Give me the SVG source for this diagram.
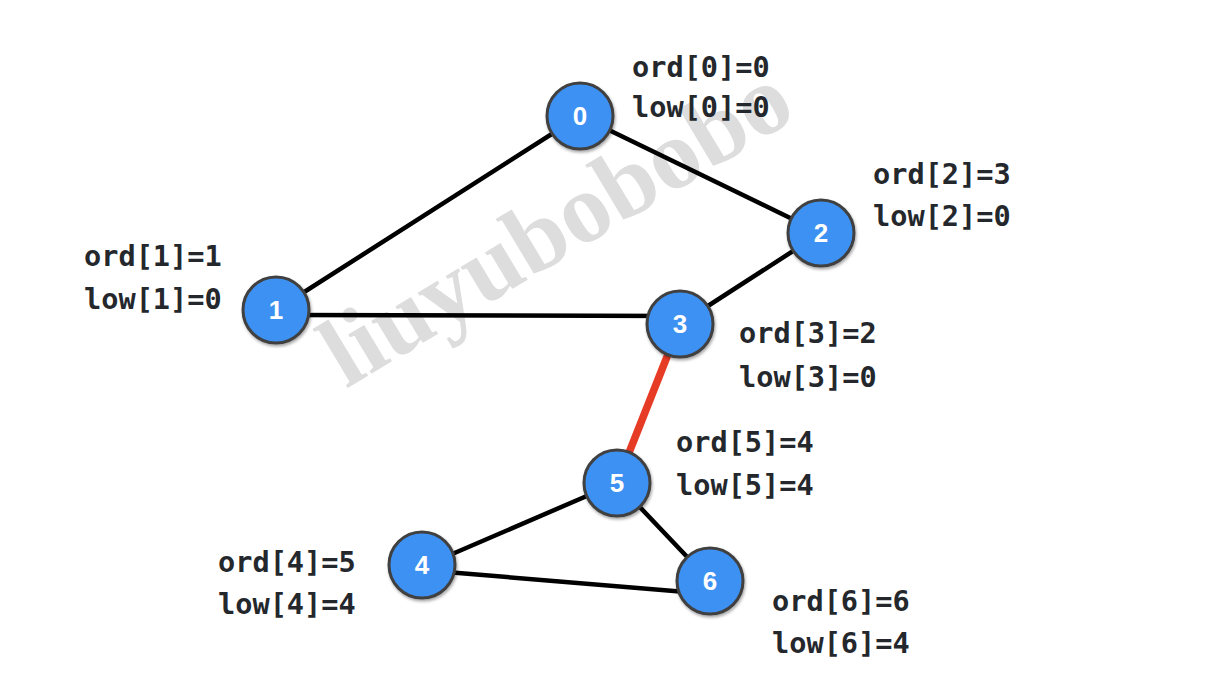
<svg xmlns="http://www.w3.org/2000/svg" width="1232" height="694" viewBox="0 0 1232 694">
  <defs>
    <filter id="sh" x="-30%" y="-30%" width="160%" height="160%">
      <feDropShadow dx="1" dy="2" stdDeviation="1.5" flood-color="#000" flood-opacity="0.35"/>
    </filter>
  </defs>
  <style>
    .edge { stroke: #000; stroke-width: 4.5; stroke-linecap: round; fill: none; }
    .bridge { stroke: #e63b25; stroke-width: 7.5; stroke-linecap: butt; fill: none; }
    .node circle { fill: #3d91f2; stroke: #404040; stroke-width: 3; filter: url(#sh); }
    .node text { fill: #fff; font-family: "Liberation Sans", Arial, sans-serif; font-weight: bold; font-size: 26px; text-anchor: middle; }
    .lbl { fill: #24282d; font-family: "DejaVu Sans Mono", "Liberation Mono", monospace; font-weight: bold; font-size: 28.6px; }
    .wm { fill: #dddddd; font-family: "Liberation Serif", "Times New Roman", serif; font-weight: bold; font-size: 99px; }
  </style>
  <rect width="1232" height="694" fill="#fff"/>
  <text class="wm" transform="translate(346,389) rotate(-31)">liuyubobobo</text>
  <g id="connectors">
    <line class="edge" x1="580" y1="116" x2="276" y2="310"/>
    <line class="edge" x1="580" y1="116" x2="821" y2="233"/>
    <line class="edge" x1="290" y1="315" x2="680" y2="316"/>
    <line class="edge" x1="821" y1="233" x2="680" y2="324"/>
    <line class="bridge" x1="680" y1="324" x2="617" y2="483"/>
    <line class="edge" x1="617" y1="483" x2="422" y2="567"/>
    <line class="edge" x1="617" y1="483" x2="710" y2="581"/>
    <line class="edge" x1="422" y1="570" x2="710" y2="594"/>
  </g>
  <g id="node-0" class="node"><circle cx="580" cy="116" r="33"/><text x="580" y="125">0</text></g>
  <g id="node-1" class="node"><circle cx="276" cy="310" r="33"/><text x="276" y="319">1</text></g>
  <g id="node-2" class="node"><circle cx="821" cy="233" r="33"/><text x="821" y="242">2</text></g>
  <g id="node-3" class="node"><circle cx="680" cy="324" r="33"/><text x="680" y="333">3</text></g>
  <g id="node-4" class="node"><circle cx="422" cy="565" r="33"/><text x="422" y="574">4</text></g>
  <g id="node-5" class="node"><circle cx="617" cy="483" r="33"/><text x="617" y="492">5</text></g>
  <g id="node-6" class="node"><circle cx="710" cy="581" r="33"/><text x="710" y="590">6</text></g>
  <g id="labels">
    <text class="lbl" x="632" y="77">ord[0]=0</text>
    <text class="lbl" x="632" y="117">low[0]=0</text>
    <text class="lbl" x="84" y="266">ord[1]=1</text>
    <text class="lbl" x="84" y="309">low[1]=0</text>
    <text class="lbl" x="873" y="184">ord[2]=3</text>
    <text class="lbl" x="873" y="226">low[2]=0</text>
    <text class="lbl" x="739" y="343">ord[3]=2</text>
    <text class="lbl" x="739" y="387">low[3]=0</text>
    <text class="lbl" x="218" y="572">ord[4]=5</text>
    <text class="lbl" x="218" y="614">low[4]=4</text>
    <text class="lbl" x="676" y="452">ord[5]=4</text>
    <text class="lbl" x="676" y="495">low[5]=4</text>
    <text class="lbl" x="772" y="611">ord[6]=6</text>
    <text class="lbl" x="772" y="653">low[6]=4</text>
  </g>
</svg>
